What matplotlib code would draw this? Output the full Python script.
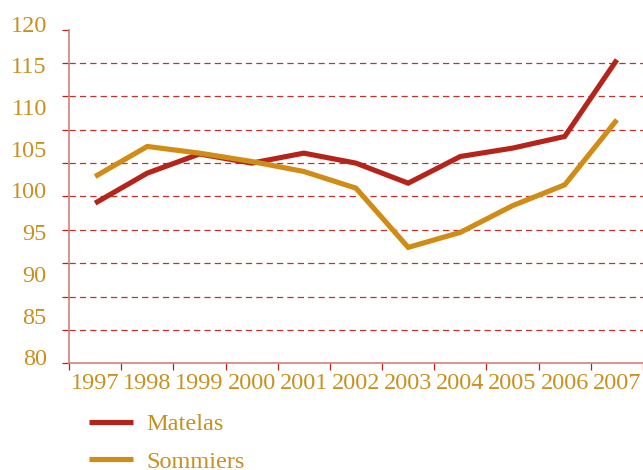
import numpy as np
import matplotlib
matplotlib.use('Agg')
import matplotlib.pyplot as plt
import matplotlib.transforms as mtransforms

# Indices 1997-2007
years = ['1997', '1998', '1999', '2000', '2001', '2002', '2003', '2004', '2005', '2006', '2007']
matelas = [99.2, 102.8, 105.1, 104.0, 105.2, 104.0, 101.6, 104.8, 105.8, 107.2, 116.4]
sommiers = [102.4, 106.0, 105.2, 104.2, 103.0, 101.0, 93.9, 95.7, 98.9, 101.4, 109.2]
y_labels = [80, 85, 90, 95, 100, 105, 110, 115, 120]
grid_levels = [80, 84, 88, 92, 96, 100, 104, 108, 112, 116, 120]

red = '#B5241A'
gold = '#D08C14'
text_col = '#C8901E'
grid_col = '#C4302C'
spine_col = '#D4807C'

plt.rcParams['font.family'] = ['Liberation Serif', 'DejaVu Serif']

fig = plt.figure(figsize=(6.43, 4.70), dpi=100)
ax = fig.add_axes([69 / 643, 1 - 363.3 / 470, 1 - 69 / 643, (363.3 - 29.7) / 470])

x = np.arange(len(years))
ax.plot(x, matelas, color=red, lw=3.7, solid_capstyle='butt', solid_joinstyle='miter', label='Matelas', zorder=3)
ax.plot(x, sommiers, color=gold, lw=3.7, solid_capstyle='butt', solid_joinstyle='miter', label='Sommiers', zorder=3)

ax.set_xlim(-0.5, len(years) - 0.5)
ax.set_ylim(80, 120)

# dashed guides (every 4 units), labels every 5 units as in the original
for g in grid_levels[1:-1]:
    ax.axhline(g, color=grid_col, lw=0.9, linestyle=(0, (5, 3.3)), zorder=1)

ax.yaxis.remove_overlapping_locs = False
ax.set_yticks(grid_levels, minor=True)
ax.set_yticks(y_labels)
ax.set_yticklabels([str(v) for v in y_labels])
ax.tick_params(axis='y', which='major', length=0, pad=16, labelsize=17.5, labelcolor=text_col)
ax.tick_params(axis='y', which='minor', length=5, width=0.9, color=red, direction='out')
offset = mtransforms.ScaledTranslation(0, 6 / 100, fig.dpi_scale_trans)
for lab in ax.get_yticklabels():
    lab.set_transform(lab.get_transform() + offset)

ax.set_xticks(np.arange(-0.5, len(years)), minor=True)
ax.set_xticks(x)
ax.set_xticklabels(years)
ax.tick_params(axis='x', which='major', length=0, pad=7, labelsize=17.5, labelcolor=text_col)
ax.tick_params(axis='x', which='minor', length=5, width=0.9, color=red, direction='out')

for side in ['top', 'right']:
    ax.spines[side].set_visible(False)
for side in ['left', 'bottom']:
    ax.spines[side].set_color(spine_col)
    ax.spines[side].set_linewidth(1.2)

leg = fig.legend(loc='upper left', bbox_to_anchor=(89 / 643, 1 - 413 / 470), frameon=False,
                 fontsize=17.5, handlelength=1.8, handletextpad=0.55, labelspacing=0.65,
                 borderaxespad=0, borderpad=0)
for t in leg.get_texts():
    t.set_color(text_col)

fig.savefig('out.png', dpi=100)
